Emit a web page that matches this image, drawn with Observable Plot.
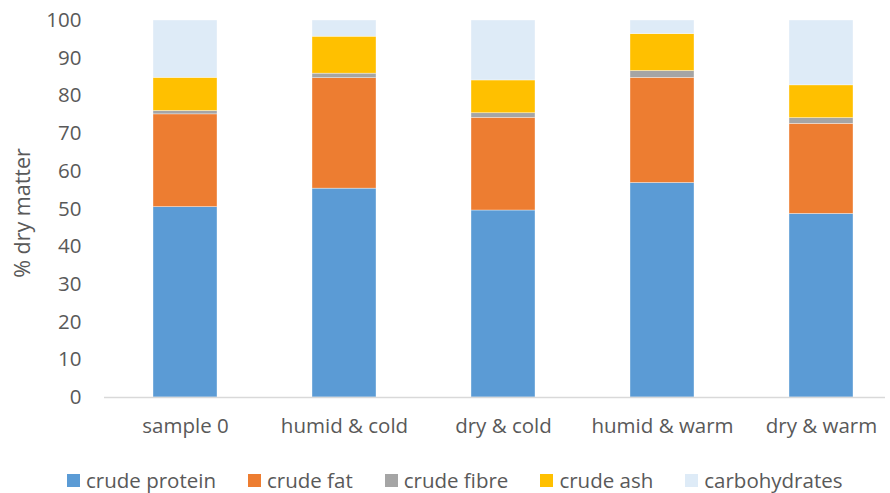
<!DOCTYPE html>
<html>
<head>
<meta charset="utf-8">
<script src="https://cdn.jsdelivr.net/npm/d3@7"></script>
<script src="https://cdn.jsdelivr.net/npm/@observablehq/plot@0.6"></script>
<style>
  html, body { margin: 0; padding: 0; background: #fff; }
  #wrap { width: 890px; font-family: "Open Sans", sans-serif; color: #595959; }
  #legend { display: flex; justify-content: flex-start; align-items: center; height: 40px; padding-left: 67px; font-size: 20.5px; }
  .item { display: flex; align-items: center; margin-right: 32px; }
  .sw { width: 13px; height: 13px; margin-right: 6px; }
</style>
</head>
<body>
<div id="wrap"></div>
<script>
const samples = ["sample 0", "humid & cold", "dry & cold", "humid & warm", "dry & warm"];
const components = ["crude protein", "crude fat", "crude fibre", "crude ash", "carbohydrates"];
const colors = ["#5B9BD5", "#ED7D31", "#A5A5A5", "#FFC000", "#DEEBF7"];
const crudeProtein = [50.5, 55.4, 49.6, 56.9, 48.7];
const crudeFat = [24.6, 29.3, 24.6, 27.9, 23.9];
const crudeFibre = [0.9, 1.2, 1.2, 1.8, 1.5];
const crudeAsh = [8.8, 9.8, 8.7, 9.8, 8.7];
const carbohydrates = [15.2, 4.3, 15.9, 3.6, 17.2];
const yTicks = [0, 10, 20, 30, 40, 50, 60, 70, 80, 90, 100];

const series = [crudeProtein, crudeFat, crudeFibre, crudeAsh, carbohydrates];
const data = [];
components.forEach((c, ci) => {
  samples.forEach((s, si) => data.push({sample: s, component: c, value: series[ci][si]}));
});

const chart = Plot.plot({
  width: 890,
  height: 460,
  marginTop: 20,
  marginBottom: 63,
  marginLeft: 104,
  marginRight: 5,
  style: {fontFamily: "Open Sans, sans-serif", fontSize: "20.5px", color: "#595959", background: "#fff"},
  x: {domain: samples, range: [104, 902], paddingInner: 0.6, paddingOuter: 0.3, label: null},
  y: {domain: [0, 100], ticks: yTicks, label: null},
  color: {domain: components, range: colors},
  marks: [
    Plot.barY(data, {x: "sample", y: "value", fill: "component", order: components, stroke: "#fff", strokeWidth: 0.6, strokeOpacity: 0.6}),
    Plot.ruleY([0], {stroke: "#d9d9d9", strokeWidth: 1.5}),
    Plot.axisY({ticks: yTicks, tickSize: 0, tickPadding: 23, label: null, fill: "#595959"}),
    Plot.axisX({tickSize: 0, tickPadding: 21, label: null, fill: "#595959"}),
    Plot.text(["% dry matter"], {frameAnchor: "left", textAnchor: "middle", dx: -81, dy: 4, rotate: -90, fontSize: 21.5, fill: "#595959"})
  ]
});

const wrap = document.getElementById("wrap");
wrap.appendChild(chart);
const legend = document.createElement("div");
legend.id = "legend";
components.forEach((c, i) => {
  const it = document.createElement("div");
  it.className = "item";
  const sw = document.createElement("div");
  sw.className = "sw";
  sw.style.background = colors[i];
  const tx = document.createElement("span");
  tx.textContent = c;
  it.appendChild(sw); it.appendChild(tx);
  legend.appendChild(it);
});
wrap.appendChild(legend);
</script>
</body>
</html>
